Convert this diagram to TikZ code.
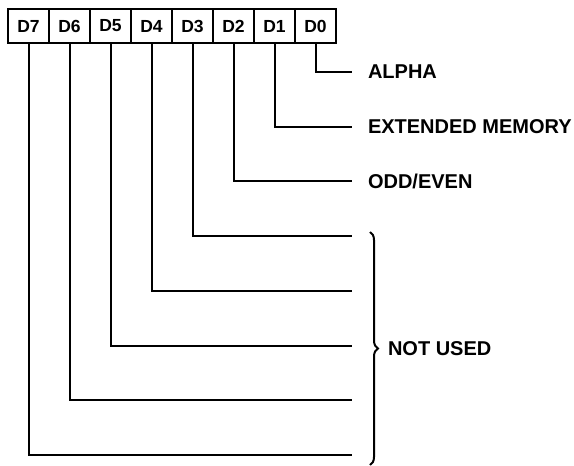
\documentclass[tikz,border=0pt]{standalone}
\usepackage{fontspec}
\setmainfont{Liberation Sans}
\usetikzlibrary{positioning,calc,decorations.pathreplacing}

\begin{document}
\begin{tikzpicture}[x=1pt, y=-1pt, node distance=0pt, line width=2pt,
  bitbox/.style={draw, outer sep=0pt, minimum width=41pt, minimum height=34pt, inner sep=0pt,
    font=\fontsize{17.5}{20}\selectfont\bfseries},
  bitname/.style={font=\fontsize{20}{23}\selectfont\bfseries, inner sep=0pt}]
  \useasboundingbox (0,0) rectangle (574,466);
  % register bits
  \node[bitbox] (d7) at (28.5,26) {D7};
  \node[bitbox, right=of d7] (d6) {D6};
  \node[bitbox, right=of d6] (d5) {D5};
  \node[bitbox, right=of d5] (d4) {D4};
  \node[bitbox, right=of d4] (d3) {D3};
  \node[bitbox, right=of d3] (d2) {D2};
  \node[bitbox, right=of d2] (d1) {D1};
  \node[bitbox, right=of d1] (d0) {D0};
  % one line per bit
  \foreach \i in {0,...,7}{
    \coordinate (e\i) at (352,72+54.7*\i);
    \draw (d\i.south) |- (e\i);
  }
  \node[bitname, right=15pt of e0] (alpha) {ALPHA};
  \node[bitname, right=15pt of e1] (extmem) {EXTENDED MEMORY};
  \node[bitname, right=15pt of e2] (oddeven) {ODD/EVEN};
  % unused bits
  \coordinate (btop) at (370,232);
  \coordinate (bbot) at (370,465);
  \draw[decorate, decoration={brace, amplitude=8pt}] (btop) -- (bbot);
  \node[bitname, anchor=west] (notused) at ($(btop)!0.5!(bbot)+(17,0)$) {NOT USED};
\end{tikzpicture}
\end{document}
